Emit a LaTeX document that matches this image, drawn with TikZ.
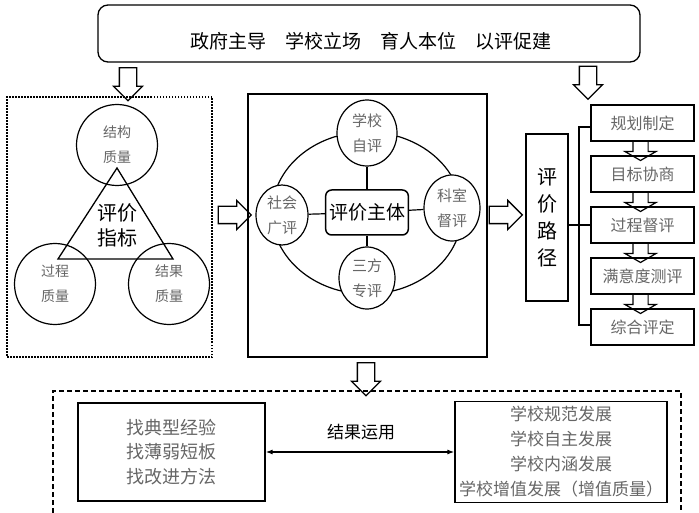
\documentclass[tikz,border=0pt]{standalone}
\usepackage{fontspec}
\setmainfont{Noto Sans CJK SC}
\usetikzlibrary{shapes.geometric,shapes.arrows,arrows.meta,calc}
\definecolor{txtgray}{gray}{0.4}
\newcommand{\fsz}[2]{\fontsize{#1}{#2}\selectfont}
\tikzset{
  bigarrow/.style={draw,line width=1.3pt,single arrow,single arrow head extend=6pt,
    inner sep=8pt,minimum width=28pt,minimum height=33pt},
  tinyarrow/.style={draw,line width=1.2pt,single arrow,single arrow head extend=8pt,
    single arrow tip angle=120,inner sep=7pt,minimum width=30pt,minimum height=13pt,rotate=-90},
  ring/.style={draw,line width=1.2pt,circle,minimum size=81pt,inner sep=0pt,
    align=center,text=txtgray,font=\fsz{14}{25}},
  egg/.style={draw,line width=1.2pt,ellipse,fill=white,inner sep=0pt,
    align=center,text=txtgray,font=\fsz{15}{25}},
  stepbox/.style={draw,line width=1.2pt,minimum width=103pt,minimum height=36pt,
    text=txtgray,font=\fsz{16}{16}},
  resbox/.style={draw,line width=1.3pt,inner sep=0pt,align=center,text=txtgray}
}
\begin{document}
\begin{tikzpicture}[x=1pt,y=-1pt]
  \useasboundingbox (0,0) rectangle (699,513);
  \node[draw,line width=1.3pt,rounded corners=10pt,minimum width=542pt,minimum height=57pt]
    (motto) at (369,33.5) {};
  \node[font=\fsz{19}{19}] (mottotext) at (371,41) {政府主导　学校立场　育人本位　以评促建};
  \node[bigarrow,rotate=-90] (a1) at (128,80) {};
  \node[bigarrow,rotate=-90] (a2) at (588,78.5) {};

  \node[draw,dash pattern=on 1.5pt off 1.5pt,line width=1.5pt,minimum width=205pt,
    minimum height=260pt] (index) at (109.5,227) {};
  \draw[line width=1.3pt] (117,168) -- (58,259) -- (173,259) -- cycle;
  \node[font=\fsz{20}{25},align=center] (indext) at (117,225.5) {评价\\指标};
  \node[ring] (c1) at (117,145) {结构\\质量};
  \node[ring] (c2) at (55,284) {过程\\质量};
  \node[ring] (c3) at (169,284) {结果\\质量};
  \node[bigarrow] (a3) at (230.5,215) {};

  \node[draw,line width=2pt,minimum width=239pt,minimum height=263pt] (subject) at (367.5,225.5) {};
  \node[draw,line width=1.2pt,ellipse,minimum width=190pt,minimum height=162pt] (orbit) at (367,213) {};
  \node[egg,minimum width=60pt,minimum height=66pt] (self) at (367,133) {学校\\自评};
  \node[egg,minimum width=56pt,minimum height=66pt] (office) at (452,208) {科室\\督评};
  \node[egg,minimum width=52pt,minimum height=60pt] (social) at (282,215) {社会\\广评};
  \node[egg,minimum width=56pt,minimum height=62pt] (third) at (367,278) {三方\\专评};
  \node[draw,line width=1.5pt,rounded corners=6pt,minimum width=80pt,minimum height=45pt,
    font=\fsz{19}{19}] (main) at (367,212.5) {评价主体};
  \begin{scope}[line width=1.2pt]
    \draw (self) to (main);
    \draw (main) to (third);
    \draw (social) to (main);
    \draw (main) to (office);
  \end{scope}
  \node[bigarrow] (a4) at (501.5,215) {};

  \node[draw,line width=1.3pt,minimum width=42pt,minimum height=167pt,align=center,
    font=\fsz{20}{27}] (route) at (547,217.5) {评\\价\\路\\径};
  \foreach \t [count=\i] in {规划制定,目标协商,过程督评,满意度测评,综合评定}
    \node[stepbox] (s\i) at (642.5,{72+51*\i}) {\t};
  \foreach \i [evaluate=\i as \j using int(\i+1)] in {1,...,4}
    \node[tinyarrow] (d\i) at ($(s\i.south)!0.5!(s\j.north)+(-2,0)$) {};
  \coordinate (br) at (579,325);
  \draw[line width=1.6pt] ([yshift=-4pt]s1.west) -| (br) -- (br -| s5.west);
  \draw[line width=1.6pt] (route.east |- s3.west) -- (s3.west);

  \node[bigarrow,rotate=-90] (a5) at (366,375) {};
  \draw[line width=1.3pt,dash pattern=on 5pt off 3pt] (53,513) |- (681,391) -- (681,513);
  \node[resbox,minimum width=187pt,minimum height=98pt,font=\fsz{18}{24.5}]
    (find) at (171.5,452) {找典型经验\\找薄弱短板\\找改进方法};
  \node[resbox,minimum width=212pt,minimum height=101pt,font=\fsz{17}{25}]
    (grow) at (561,452) {学校规范发展\\学校自主发展\\学校内涵发展\\学校增值发展（增值质量）};
  \draw[{Latex[length=7pt,width=5pt]}-{Latex[length=7pt,width=5pt]},line width=1.2pt] (find) -- (grow);
  \node[font=\fsz{17}{17}] (use) at (361,432) {结果运用};
\end{tikzpicture}
\end{document}
